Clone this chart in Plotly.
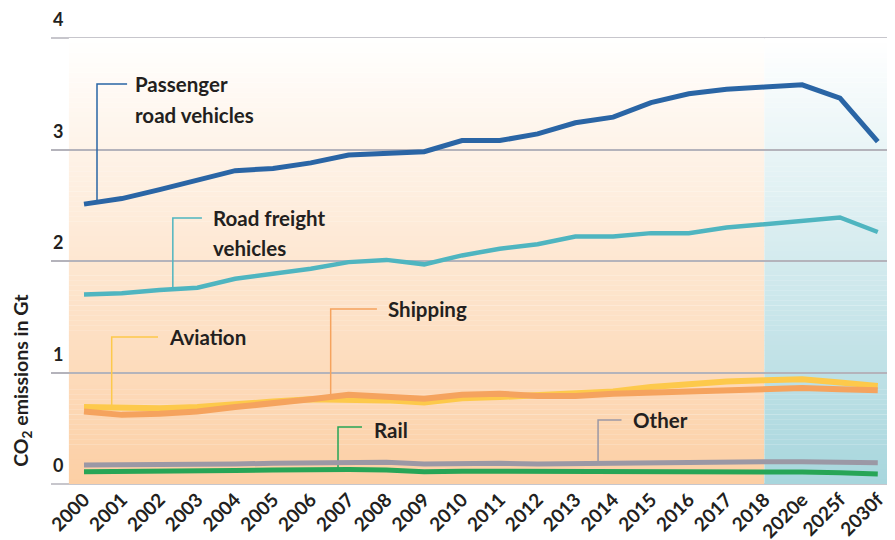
import numpy as np
import plotly.graph_objects as go

categories = ["2000", "2001", "2002", "2003", "2004", "2005", "2006", "2007", "2008", "2009",
              "2010", "2011", "2012", "2013", "2014", "2015", "2016", "2017", "2018",
              "2020e", "2025f", "2030f"]

passenger = [2.51, 2.56, 2.64, 2.73, 2.81, 2.83, 2.88, 2.95, 2.97, 2.98, 3.08, 3.08, 3.14,
             3.24, 3.29, 3.42, 3.50, 3.54, 3.56, 3.58, 3.46, 3.07]
road_freight = [1.70, 1.71, 1.74, 1.76, 1.84, 1.88, 1.93, 1.99, 2.01, 1.97, 2.05, 2.11, 2.15,
                2.22, 2.22, 2.25, 2.25, 2.30, 2.33, 2.37, 2.39, 2.26]
aviation = [0.69, 0.68, 0.68, 0.69, 0.72, 0.74, 0.76, 0.76, 0.75, 0.73, 0.77, 0.78, 0.80,
            0.81, 0.83, 0.87, 0.90, 0.92, 0.93, 0.94, 0.91, 0.88]
shipping = [0.65, 0.62, 0.63, 0.65, 0.69, 0.72, 0.76, 0.80, 0.78, 0.765, 0.80, 0.81, 0.79,
            0.79, 0.81, 0.82, 0.84, 0.85, 0.86, 0.86, 0.85, 0.84]
other = [0.17, 0.17, 0.175, 0.175, 0.18, 0.185, 0.19, 0.195, 0.195, 0.18, 0.185, 0.185, 0.18,
         0.185, 0.19, 0.19, 0.195, 0.20, 0.20, 0.20, 0.195, 0.19]
rail = [0.11, 0.11, 0.115, 0.115, 0.12, 0.125, 0.13, 0.13, 0.125, 0.11, 0.115, 0.115, 0.115,
        0.115, 0.115, 0.115, 0.115, 0.115, 0.11, 0.107, 0.10, 0.09]

y_ticks = [0, 1, 2, 3, 4]

idx = list(range(len(categories)))
TXT = "#231f20"
FONT = "Lato"
GRID = "#b4b3bb"
X0, X1 = -0.873, 21.35
HIST_START, PROJ_START = -0.4, 18

shapes = []
annotations = []

# gradient background panels built from thin stripes (drawn below the gridlines)
def gradient_panel(x0, x1, bottom_rgb, n=90):
    for k in range(n):
        y0 = 4 * k / n
        y1 = 4 * (k + 1) / n
        t = (k + 0.5) / n  # 0 bottom -> 1 top
        c = [round(b + (255 - b) * t) for b in bottom_rgb]
        shapes.append(dict(type="rect", xref="x", yref="y", x0=x0, x1=x1, y0=y0, y1=y1 + 0.002,
                           fillcolor=f"rgb({c[0]},{c[1]},{c[2]})", line=dict(width=0),
                           layer="below"))

gradient_panel(HIST_START, PROJ_START, (252, 207, 164))
gradient_panel(PROJ_START, X1 + 0.05, (168, 214, 221))

# gridlines on the range edges (plotly skips them)
for yp in (0, 1):
    shapes.append(dict(type="line", xref="paper", yref="paper", x0=0, x1=1, y0=yp, y1=yp,
                       line=dict(color=GRID, width=1.5), layer="between"))

fig = go.Figure()

series = [
    ("Other", other, "#9b98a5", 5),
    ("Rail", rail, "#27a556", 5),
    ("Aviation", aviation, "#fdc94b", 6),
    ("Shipping", shipping, "#f5a35e", 6),
    ("Road freight vehicles", road_freight, "#4fb5c0", 4.5),
    ("Passenger road vehicles", passenger, "#2a65a5", 5),
]
for name, vals, col, w in series:
    fig.add_trace(go.Scatter(x=idx, y=vals, mode="lines", name=name,
                             line=dict(color=col, width=w), showlegend=False))

LABEL_SIZE = 20.5

def callout(xv, xh_end, ytop, vals, col, lines, ys, xtext):
    ybot = float(np.interp(xv, idx, vals))
    shapes.append(dict(type="path", xref="x", yref="y",
                       path=f"M {xv},{ybot} L {xv},{ytop} L {xh_end},{ytop}",
                       line=dict(color=col, width=1.5), layer="between"))
    for t, yy in zip(lines, ys):
        annotations.append(dict(x=xtext, y=yy, xref="x", yref="y", text=f"<b>{t}</b>",
                                showarrow=False, xanchor="left", yanchor="middle",
                                font=dict(family=FONT, size=LABEL_SIZE, color=TXT)))

callout(0.344, 1.14, 3.587, passenger, "#2a65a5", ["Passenger", "road vehicles"], [3.587, 3.31], 1.30)
callout(2.35, 3.12, 2.386, road_freight, "#4fb5c0", ["Road freight", "vehicles"], [2.386, 2.114], 3.35)
callout(0.733, 1.958, 1.318, aviation, "#fdc94b", ["Aviation"], [1.318], 2.196)
callout(6.526, 7.75, 1.570, shipping, "#f5a35e", ["Shipping"], [1.570], 7.98)
callout(6.72, 7.354, 0.511, rail, "#27a556", ["Rail"], [0.484], 7.62)
callout(13.6, 14.22, 0.574, other, "#9b98a5", ["Other"], [0.574], 14.46)

for v in y_ticks:
    annotations.append(dict(x=0, y=v, xref="paper", yref="y", text=f"<b>{v}</b>",
                            showarrow=False, xanchor="left", yanchor="middle", yshift=19,
                            font=dict(family=FONT, size=18, color=TXT)))

annotations.append(dict(x=-0.034, y=0.93, xref="paper", yref="y",
                        text="<b>CO<sub>2</sub> emissions in Gt</b>", textangle=-90,
                        showarrow=False, xanchor="center", yanchor="middle",
                        font=dict(family=FONT, size=19.5, color=TXT)))

# page body adds an 8px offset, so the figure is 8px smaller than the window
fig.update_layout(
    width=887, height=532,
    margin=dict(l=43, r=4, t=30, b=56),
    paper_bgcolor="white", plot_bgcolor="rgba(0,0,0,0)",
    shapes=shapes, annotations=annotations,
    showlegend=False,
    xaxis=dict(range=[X0, X1], tickvals=idx, ticktext=[f"<b>{c}</b>" for c in categories],
               tickangle=-45, showgrid=False, zeroline=False, ticks="", automargin=False,
               tickfont=dict(family=FONT, size=19, color=TXT)),
    yaxis=dict(range=[0, 4], tickvals=y_ticks, showticklabels=False, showgrid=True,
               gridcolor=GRID, gridwidth=1.5, zeroline=False, ticks="", automargin=False),
)

fig.write_html("out.html")
